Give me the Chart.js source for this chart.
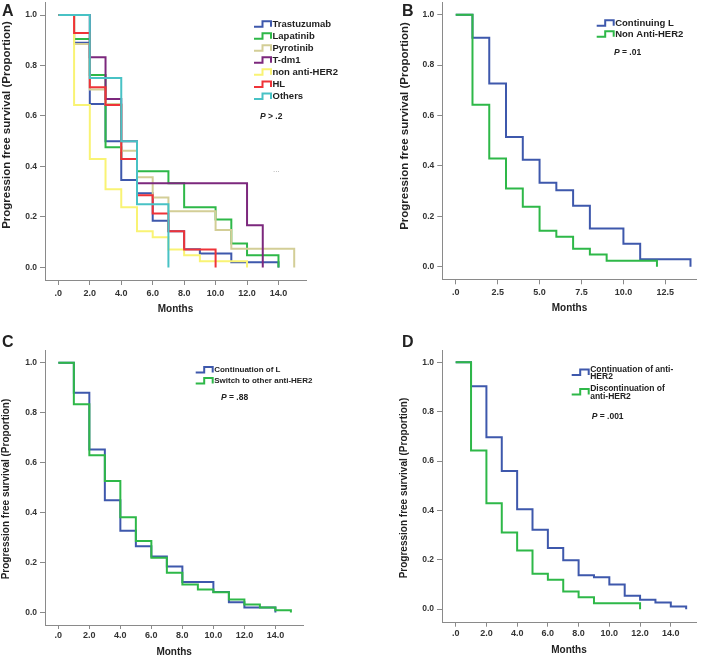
<!DOCTYPE html>
<html>
<head>
<meta charset="utf-8">
<title>Progression free survival</title>
<script src="https://cdn.jsdelivr.net/npm/chart.js@4.4.0/dist/chart.umd.min.js"></script>
<style>
  html, body { margin: 0; padding: 0; background: #fff; }
  #figure { position: relative; width: 709px; height: 658px; overflow: hidden; }
  .panel { position: absolute; }
  .panel canvas { display: block; }
</style>
</head>
<body>
<div id="figure">
  <div class="panel"><canvas id="chartA"></canvas></div>
  <div class="panel"><canvas id="chartB"></canvas></div>
  <div class="panel"><canvas id="chartC"></canvas></div>
  <div class="panel"><canvas id="chartD"></canvas></div>
</div>
<script>
// ==========================================
// DATA
// ==========================================

// Panel A - treatment after progression
const trastuzumabMonths = [0, 1, 2, 3, 4, 5, 6, 7, 8, 9, 11, 14];
const trastuzumabPFS    = [1, 0.89, 0.647, 0.5, 0.346, 0.294, 0.185, 0.143, 0.072, 0.055, 0.02, 0];
const lapatinibMonths = [0, 1, 2, 3, 4, 5, 7, 8, 10, 11, 12, 14];
const lapatinibPFS    = [1, 0.905, 0.762, 0.476, 0.429, 0.381, 0.333, 0.238, 0.19, 0.095, 0.048, 0];
const pyrotinibMonths = [0, 1, 2, 3, 4, 5, 6, 7, 10, 11, 15];
const pyrotinibPFS    = [1, 0.885, 0.705, 0.647, 0.462, 0.357, 0.277, 0.222, 0.148, 0.074, 0];
const tdm1Months = [0, 2, 3, 4, 5, 12, 13];
const tdm1PFS    = [1, 0.833, 0.667, 0.5, 0.333, 0.167, 0];
const nonAntiHer2Months = [0, 1, 2, 3, 4, 5, 6, 7, 8, 9, 12];
const nonAntiHer2PFS    = [1, 0.643, 0.429, 0.31, 0.238, 0.143, 0.119, 0.071, 0.048, 0.024, 0];
const hlMonths = [0, 1, 2, 3, 4, 5, 6, 7, 8, 10];
const hlPFS    = [1, 0.929, 0.714, 0.643, 0.429, 0.286, 0.214, 0.143, 0.071, 0];
const othersMonths = [0, 2, 4, 5, 7];
const othersPFS    = [1, 0.75, 0.5, 0.25, 0];

// Panel B - continuing lapatinib vs non anti-HER2 (same non anti-HER2 group as A)
const continuingLMonths = [0, 1, 2, 3, 4, 5, 6, 7, 8, 10, 11, 14];
const continuingLPFS    = [1, 0.909, 0.727, 0.515, 0.424, 0.333, 0.303, 0.242, 0.152, 0.091, 0.03, 0];

// Panel C - continuation of L vs switch
const continuationLMonths = [0, 1, 2, 3, 4, 5, 6, 7, 8, 10, 11, 12, 14];
const continuationLPFS    = [1, 0.88, 0.653, 0.449, 0.327, 0.265, 0.224, 0.184, 0.122, 0.082, 0.041, 0.02, 0];
const switchMonths = [0, 1, 2, 3, 4, 5, 6, 7, 8, 9, 10, 11, 12, 13, 14, 15];
const switchPFS    = [1, 0.834, 0.629, 0.526, 0.381, 0.286, 0.219, 0.159, 0.112, 0.092, 0.081, 0.052, 0.032, 0.02, 0.009, 0];

// Panel D - continuation vs discontinuation of anti-HER2
const continuationAntiMonths = [0, 1, 2, 3, 4, 5, 6, 7, 8, 9, 10, 11, 12, 13, 14, 15];
const continuationAntiPFS    = [1, 0.903, 0.696, 0.56, 0.405, 0.322, 0.248, 0.198, 0.137, 0.129, 0.1, 0.054, 0.038, 0.027, 0.011, 0];

// Ticks
const yTicks = [0, 0.2, 0.4, 0.6, 0.8, 1.0];
const xTicksMonths = [0, 2, 4, 6, 8, 10, 12, 14];
const xTicksB = [0, 2.5, 5, 7.5, 10, 12.5];

// Legend labels (line breaks as in the figure)
const labelsA = [['Trastuzumab'], ['Lapatinib'], ['Pyrotinib'], ['T-dm1'], ['non anti-HER2'], ['HL'], ['Others']];
const labelsB = [['Continuing L'], ['Non Anti-HER2']];
const labelsC = [['Continuation of L'], ['Switch to other anti-HER2']];
const labelsD = [['Continuation of anti-', 'HER2'], ['Discontinuation of', 'anti-HER2']];

// ==========================================
// STYLE
// ==========================================

const FONT = '"Liberation Sans", Arial, sans-serif';
const SPSS = {
    blue: '#3E58AC', green: '#2EB848', beige: '#D3CE97', purple: '#7C287D',
    yellow: '#F9F374', red: '#EF3338', cyan: '#48C2C5'
};
const AXIS_COLOR = '#8a8a8a';
const TEXT_COLOR = '#222';

// ==========================================
// DECORATION PLUGIN (panel letter, y title, legend, p-value)
// ==========================================

function drawStepIcon(ctx, x, y, color) {
    ctx.strokeStyle = color;
    ctx.lineWidth = 2;
    ctx.beginPath();
    ctx.moveTo(x, y + 2.5);
    ctx.lineTo(x + 8.5, y + 2.5);
    ctx.lineTo(x + 8.5, y - 3);
    ctx.lineTo(x + 17, y - 3);
    ctx.lineTo(x + 17, y + 2.5);
    ctx.stroke();
}

const panelDecor = {
    id: 'panelDecor',
    afterDraw(chart, args, opts) {
        const ctx = chart.ctx;
        const ox = opts.origin[0], oy = opts.origin[1];
        ctx.save();
        ctx.fillStyle = TEXT_COLOR;

        // panel letter
        ctx.font = 'bold 16px ' + FONT;
        ctx.textAlign = 'left';
        ctx.textBaseline = 'alphabetic';
        ctx.fillText(opts.letter.text, opts.letter.x - ox, opts.letter.y - oy);

        // y axis title
        ctx.save();
        ctx.translate(opts.yTitle.x - ox, opts.yTitle.y - oy);
        ctx.rotate(-Math.PI / 2);
        ctx.font = opts.yTitle.font;
        ctx.textAlign = 'center';
        ctx.textBaseline = 'middle';
        ctx.fillText('Progression free survival (Proportion)', 0, 0);
        ctx.restore();

        // legend
        const lg = opts.legend;
        ctx.textBaseline = 'middle';
        ctx.font = lg.font;
        chart.data.datasets.forEach((ds, i) => {
            const lines = lg.labels[i];
            const y0 = lg.rows[i] - oy;
            const iconY = y0 + (lines.length - 1) * lg.lineGap * 0.4;
            drawStepIcon(ctx, lg.x - ox, iconY, ds.borderColor);
            ctx.fillStyle = TEXT_COLOR;
            lines.forEach((line, k) => {
                ctx.fillText(line, lg.x - ox + 18.5, y0 + k * lg.lineGap);
            });
        });

        // p-value
        const p = opts.pValue;
        let px = p.x - ox;
        ctx.font = 'italic bold ' + p.size + 'px ' + FONT;
        ctx.fillText('P', px, p.y - oy);
        px += ctx.measureText('P').width;
        ctx.font = 'bold ' + p.size + 'px ' + FONT;
        ctx.fillText(p.rest, px, p.y - oy);

        // extra small texts
        (opts.extras || []).forEach(t => {
            ctx.font = t.font;
            ctx.fillStyle = t.color;
            ctx.fillText(t.text, t.x - ox, t.y - oy);
        });
        ctx.restore();
    }
};

// ==========================================
// PANELS
// ==========================================

function series(months, pfs, color) {
    return { months, pfs, color };
}

const panels = [
    {
        id: 'chartA', box: [0, 0, 354, 325],
        area: { left: 45, top: 2.4, right: 306, bottom: 280 },
        xRange: [-0.85, 15.75], yRange: [-0.05, 1.05], xTicks: xTicksMonths,
        tickLength: 5, tickPadding: 3, monthsPad: 10,
        series: [
            series(trastuzumabMonths, trastuzumabPFS, SPSS.blue),
            series(lapatinibMonths, lapatinibPFS, SPSS.green),
            series(pyrotinibMonths, pyrotinibPFS, SPSS.beige),
            series(tdm1Months, tdm1PFS, SPSS.purple),
            series(nonAntiHer2Months, nonAntiHer2PFS, SPSS.yellow),
            series(hlMonths, hlPFS, SPSS.red),
            series(othersMonths, othersPFS, SPSS.cyan)
        ],
        decor: {
            origin: [0, 0],
            letter: { text: 'A', x: 2, y: 16 },
            yTitle: { x: 6.5, y: 125, font: 'bold 11.5px ' + FONT },
            legend: { x: 254, rows: [24.3, 36.2, 48.3, 60.3, 72.3, 84.4, 96.6], lineGap: 0,
                      labels: labelsA, font: 'bold 9.5px ' + FONT },
            pValue: { x: 260, y: 116.7, size: 8.5, rest: ' > .2' },
            extras: [{ text: '...', x: 273, y: 170, font: '8px ' + FONT, color: '#999' }]
        }
    },
    {
        id: 'chartB', box: [354, 0, 355, 325],
        area: { left: 442.3, top: 2.1, right: 696.7, bottom: 279.3 },
        xRange: [-0.8, 14.37], yRange: [-0.05, 1.05], xTicks: xTicksB,
        tickLength: 5, tickPadding: 3, monthsPad: 11,
        series: [
            series(continuingLMonths, continuingLPFS, SPSS.blue),
            series(nonAntiHer2Months, nonAntiHer2PFS, SPSS.green)
        ],
        decor: {
            origin: [354, 0],
            letter: { text: 'B', x: 402, y: 16 },
            yTitle: { x: 405, y: 126, font: 'bold 11.5px ' + FONT },
            legend: { x: 596.7, rows: [23.3, 34.3], lineGap: 0, labels: labelsB, font: 'bold 9.5px ' + FONT },
            pValue: { x: 614, y: 52.3, size: 8.5, rest: ' = .01' }
        }
    },
    {
        id: 'chartC', box: [0, 329, 354, 329],
        area: { left: 45, top: 350.2, right: 303.3, bottom: 625 },
        xRange: [-0.86, 15.8], yRange: [-0.05, 1.05], xTicks: xTicksMonths,
        tickLength: 4, tickPadding: 1, monthsPad: 0,
        series: [
            series(continuationLMonths, continuationLPFS, SPSS.blue),
            series(switchMonths, switchPFS, SPSS.green)
        ],
        decor: {
            origin: [0, 329],
            letter: { text: 'C', x: 2, y: 347 },
            yTitle: { x: 6.3, y: 489, font: 'bold 10px ' + FONT },
            legend: { x: 195.7, rows: [370, 381], lineGap: 0, labels: labelsC, font: 'bold 8px ' + FONT },
            pValue: { x: 221, y: 397.7, size: 8.5, rest: ' = .88' }
        }
    },
    {
        id: 'chartD', box: [354, 329, 355, 329],
        area: { left: 442, top: 350, right: 696, bottom: 622.7 },
        xRange: [-0.89, 15.64], yRange: [-0.055, 1.05], xTicks: xTicksMonths,
        tickLength: 4, tickPadding: 1, monthsPad: 2,
        series: [
            series(continuationAntiMonths, continuationAntiPFS, SPSS.blue),
            series(nonAntiHer2Months, nonAntiHer2PFS, SPSS.green)
        ],
        decor: {
            origin: [354, 329],
            letter: { text: 'D', x: 402, y: 347 },
            yTitle: { x: 404, y: 488, font: 'bold 10px ' + FONT },
            legend: { x: 571.7, rows: [369.5, 389], lineGap: 7.5, labels: labelsD, font: 'bold 8.5px ' + FONT },
            pValue: { x: 591.7, y: 417, size: 8.5, rest: ' = .001' }
        }
    }
];

const Y_AXIS_W = 45;

function buildPanel(p) {
    const [bx, by, bw, bh] = p.box;
    const canvas = document.getElementById(p.id);
    canvas.width = bw;
    canvas.height = bh;
    canvas.parentNode.style.left = bx + 'px';
    canvas.parentNode.style.top = by + 'px';

    const xAxisH = by + bh - p.area.bottom;
    const labels = p.decor.legend.labels;

    const datasets = p.series.map((s, i) => ({
        label: labels[i].join(''),
        data: s.months.map((m, k) => ({ x: m, y: s.pfs[k] })),
        borderColor: s.color,
        backgroundColor: s.color,
        borderWidth: 2,
        stepped: true,
        pointRadius: 0,
        fill: false,
        order: -i
    }));

    const tickFont = { family: FONT, size: 9, weight: 'bold' };
    const gridStyle = { display: true, drawOnChartArea: false, drawTicks: true, color: AXIS_COLOR, lineWidth: 1 };

    new Chart(canvas, {
        type: 'line',
        data: { datasets },
        options: {
            responsive: false,
            animation: false,
            events: [],
            layout: {
                padding: {
                    left: p.area.left - bx - Y_AXIS_W,
                    top: p.area.top - by,
                    right: bx + bw - p.area.right,
                    bottom: 0
                }
            },
            plugins: {
                legend: { display: false },
                tooltip: { enabled: false },
                panelDecor: p.decor
            },
            scales: {
                x: {
                    type: 'linear',
                    min: p.xRange[0],
                    max: p.xRange[1],
                    afterBuildTicks: scale => { scale.ticks = p.xTicks.map(v => ({ value: v })); },
                    afterFit: scale => { scale.height = xAxisH; scale.paddingLeft = 0; scale.paddingRight = 0; },
                    ticks: {
                        autoSkip: false, maxRotation: 0, padding: p.tickPadding,
                        color: '#333', font: tickFont,
                        callback: v => (v === 0 ? '.0' : v.toFixed(1))
                    },
                    grid: Object.assign({ tickLength: p.tickLength }, gridStyle),
                    border: { display: true, color: AXIS_COLOR, width: 1 },
                    title: {
                        display: true, text: 'Months', color: TEXT_COLOR,
                        font: { family: FONT, size: 10, weight: 'bold' },
                        padding: { top: 0, bottom: p.monthsPad }
                    }
                },
                y: {
                    type: 'linear',
                    min: p.yRange[0],
                    max: p.yRange[1],
                    afterBuildTicks: scale => { scale.ticks = yTicks.map(v => ({ value: v })); },
                    afterFit: scale => { scale.width = Y_AXIS_W; scale.paddingTop = 0; scale.paddingBottom = 0; },
                    ticks: {
                        autoSkip: false, padding: 3, color: '#333',
                        font: { family: FONT, size: 8.5, weight: 'bold' },
                        callback: v => v.toFixed(1)
                    },
                    grid: Object.assign({ tickLength: 5 }, gridStyle),
                    border: { display: true, color: AXIS_COLOR, width: 1 },
                    title: { display: false }
                }
            }
        },
        plugins: [panelDecor]
    });
}

document.addEventListener('DOMContentLoaded', function() {
    panels.forEach(buildPanel);
});
</script>
</body>
</html>
